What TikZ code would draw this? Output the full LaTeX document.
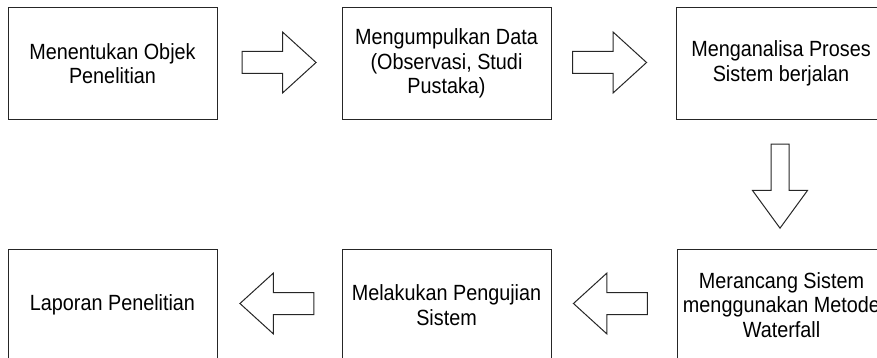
\documentclass[tikz,border=0pt]{standalone}
\usepackage{fontspec}
\setmainfont[FakeStretch=0.9]{Liberation Sans}
\usetikzlibrary{shapes.arrows}
\newcommand{\hstrut}{\rule{0pt}{21pt}}
\newcommand{\vstrut}{\rule{0pt}{17pt}}
\tikzset{
  box/.style={draw=black!85, line width=1pt, minimum width=209pt, minimum height=112pt,
    inner sep=0pt, align=center, font=\fontsize{22}{24.5}\selectfont},
  harrow/.style={draw=black!85, line width=1pt, shape=single arrow, inner sep=0pt,
    minimum height=74pt, single arrow head extend=19.5pt,
    single arrow tip angle=84.6},
  varrow/.style={draw=black!85, line width=1pt, shape=single arrow, inner sep=0pt,
    minimum height=84pt, single arrow head extend=18.5pt,
    single arrow tip angle=72.2, rotate=-90}
}
\begin{document}
\begin{tikzpicture}[x=1pt, y=-1pt]
\useasboundingbox (0,0) rectangle (877,358);
\clip (0,0) rectangle (877,358);
\node[box] (b1) at (112.5,63.5) {Menentukan Objek\\Penelitian};
\node[box] (b2) at (446.5,63.5) {Mengumpulkan Data\\(Observasi, Studi\\Pustaka)};
\node[box] (b3) at (781,63.5) {Menganalisa Proses\\Sistem berjalan};
\node[box] (b4) at (781.5,305) {Merancang Sistem\\menggunakan Metode\\Waterfall};
\node[box] (b5) at (446.5,305) {Melakukan Pengujian\\Sistem};
\node[box] (b6) at (112.5,305) {Laporan Penelitian};
\node[harrow] (a1) at (273,62.5) {\hstrut};
\node[harrow] (a2) at (603.5,62.5) {\hstrut};
\node[varrow] (a3) at (780,180) {\vstrut};
\node[harrow, rotate=180] (a4) at (616.5,303.5) {\hstrut};
\node[harrow, rotate=180] (a5) at (283,303.5) {\hstrut};
\end{tikzpicture}
\end{document}
